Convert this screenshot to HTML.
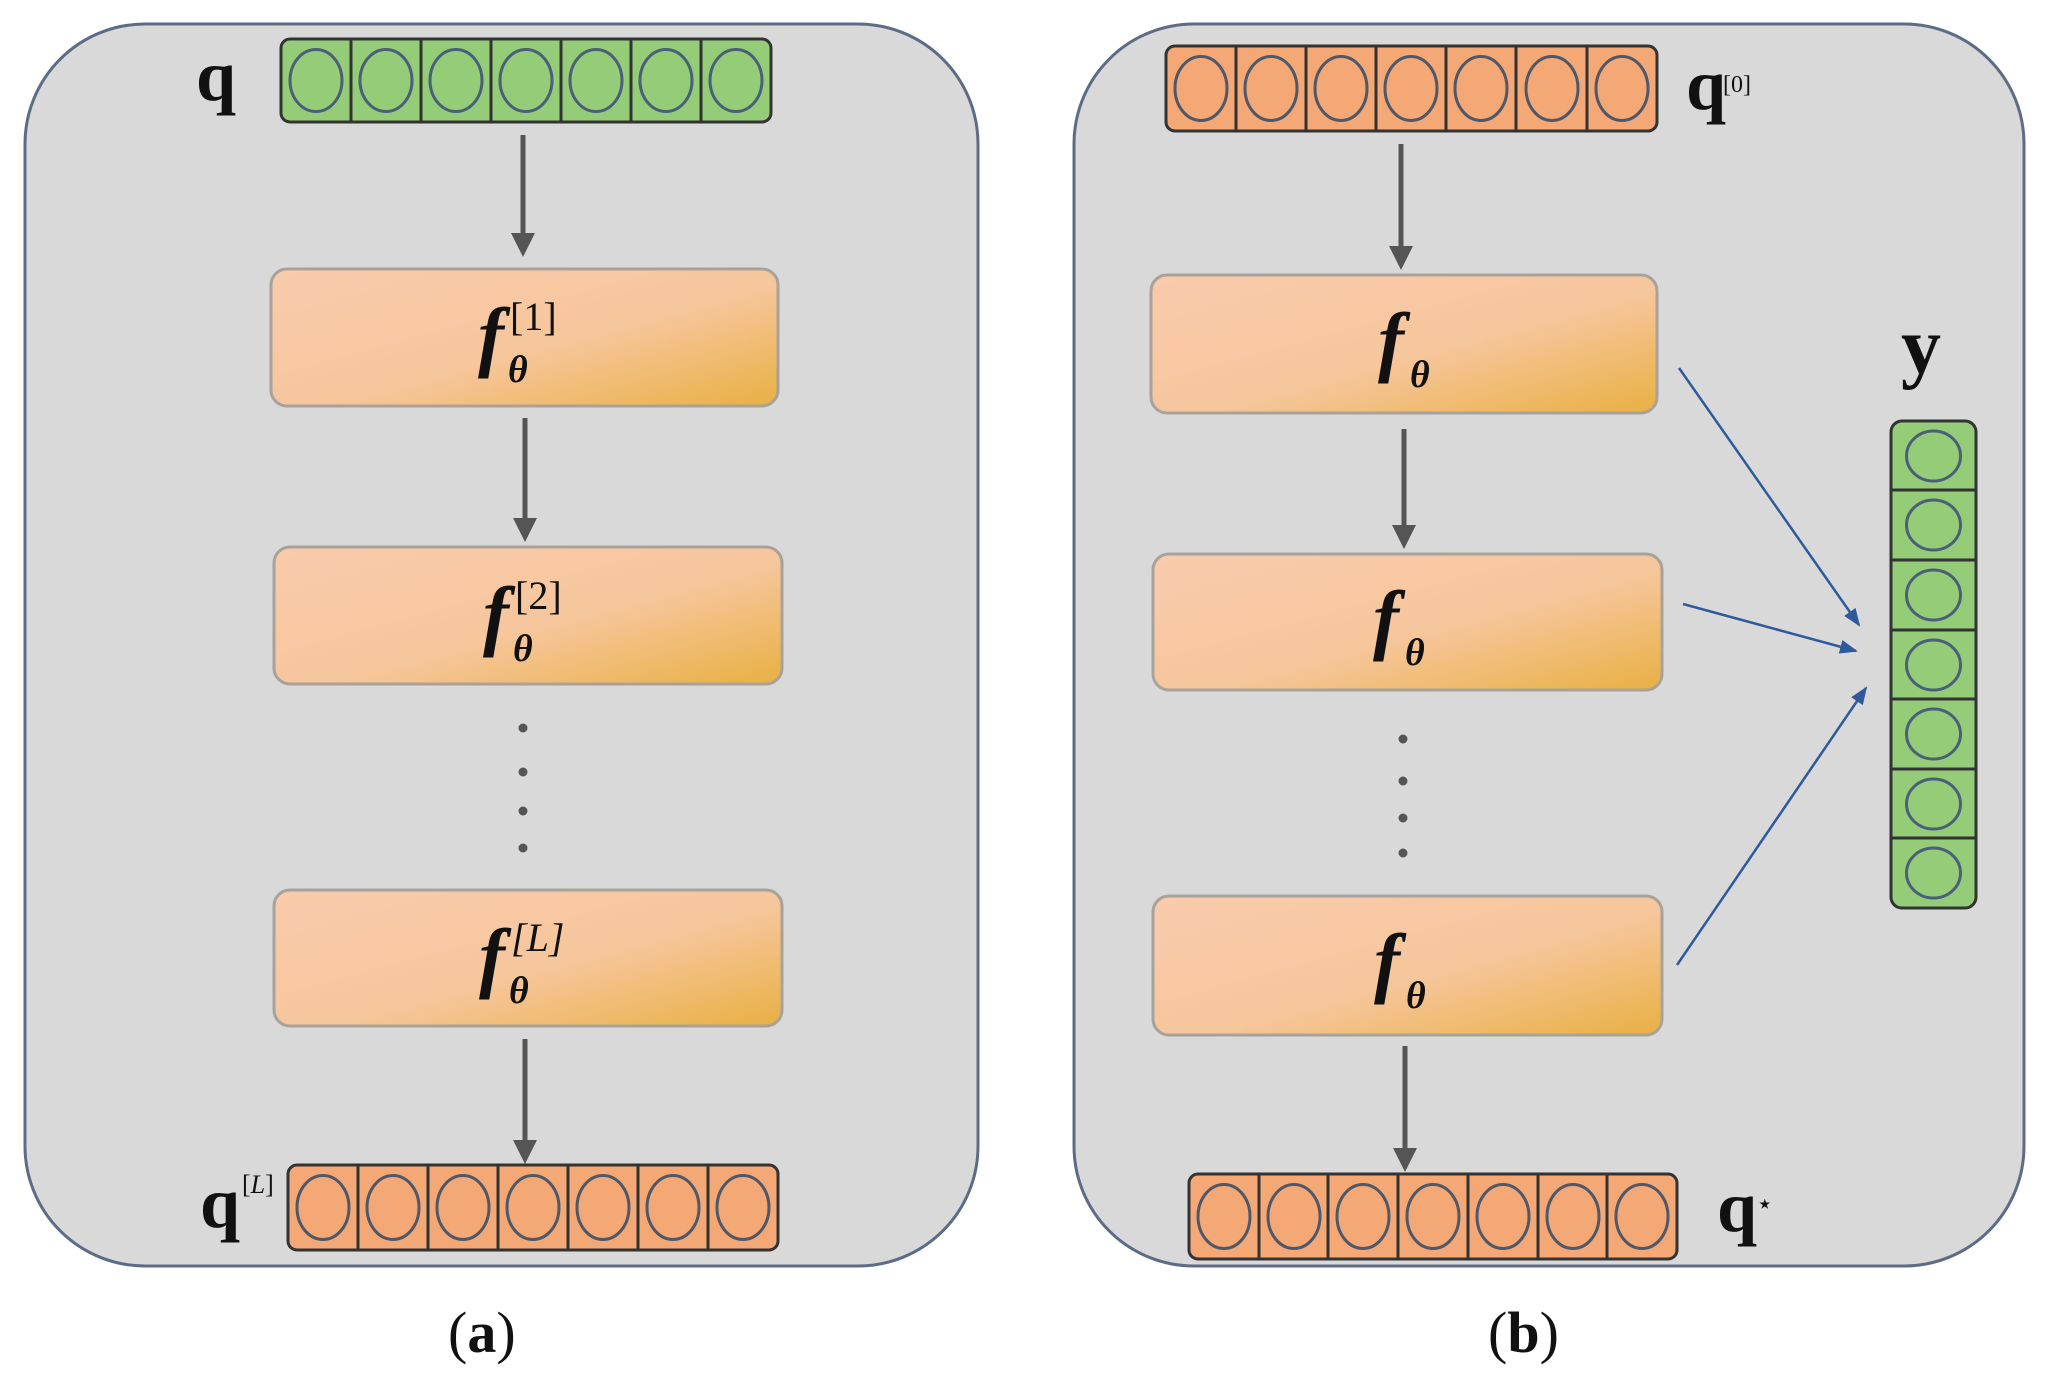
<!DOCTYPE html>
<html><head><meta charset="utf-8"><style>
html,body{margin:0;padding:0;background:#fff;}
svg{display:block;}
text{font-family:"Liberation Serif",serif;fill:#111;}
</style></head><body>
<svg width="2050" height="1387" viewBox="0 0 2050 1387" xmlns="http://www.w3.org/2000/svg">
<defs>
<linearGradient id="g" x1="0" y1="0" x2="1" y2="1">
<stop offset="0" stop-color="#f9cbac"/><stop offset="0.55" stop-color="#f6c69c"/><stop offset="1" stop-color="#e9b042"/>
</linearGradient>
<marker id="ah" markerWidth="10" markerHeight="10" refX="8" refY="5" orient="auto" markerUnits="userSpaceOnUse"><path d="M0,0 L10,5 L0,10 z" fill="#555"/></marker>
<marker id="bh" markerWidth="18" markerHeight="14" refX="16" refY="7" orient="auto" markerUnits="userSpaceOnUse"><path d="M0,0 L18,7 L0,14 z" fill="#2e5a9c"/></marker>
</defs>
<rect x="0" y="0" width="2050" height="1387" fill="#fff"/>
<!-- panels -->
<rect x="25" y="24" width="953" height="1242" rx="120" fill="#d9d9d9" stroke="#5d6c86" stroke-width="3"/>
<rect x="1074" y="24" width="950" height="1242" rx="120" fill="#d9d9d9" stroke="#5d6c86" stroke-width="3"/>

<!-- arrows panel a -->
<g stroke="#555" stroke-width="5" fill="#555">
<line x1="523" y1="135" x2="523" y2="235"/><path d="M511,233 L535,233 L523,257 z" stroke="none"/>
<line x1="525" y1="418" x2="525" y2="520"/><path d="M513,518 L537,518 L525,542 z" stroke="none"/>
<line x1="525" y1="1039" x2="525" y2="1142"/><path d="M513,1140 L537,1140 L525,1164 z" stroke="none"/>
<line x1="1401" y1="144" x2="1401" y2="248"/><path d="M1389,246 L1413,246 L1401,270 z" stroke="none"/>
<line x1="1404" y1="429" x2="1404" y2="527"/><path d="M1392,525 L1416,525 L1404,549 z" stroke="none"/>
<line x1="1405" y1="1046" x2="1405" y2="1150"/><path d="M1393,1148 L1417,1148 L1405,1172 z" stroke="none"/>
</g>
<!-- dots -->
<g fill="#555">
<circle cx="523" cy="728" r="4.5"/><circle cx="523" cy="772" r="4.5"/><circle cx="523" cy="811" r="4.5"/><circle cx="523" cy="848" r="4.5"/>
<circle cx="1403" cy="739" r="4.5"/><circle cx="1403" cy="781" r="4.5"/><circle cx="1403" cy="818" r="4.5"/><circle cx="1403" cy="853" r="4.5"/>
</g>

<!-- boxes -->
<g fill="url(#g)" stroke="#a8a29a" stroke-width="3">
<rect x="271" y="269" width="507" height="137" rx="16"/>
<rect x="274" y="547" width="508" height="137" rx="16"/>
<rect x="274" y="890" width="508" height="136" rx="16"/>
<rect x="1151" y="275" width="506" height="138" rx="16"/>
<rect x="1153" y="554" width="509" height="136" rx="16"/>
<rect x="1153" y="896" width="509" height="139" rx="16"/>
</g>

<!-- box labels -->
<g font-style="italic">
<text x="478" y="362" font-size="78" font-weight="bold">f</text><text x="508" y="382" font-size="38" font-weight="bold">θ</text><text x="510" y="330" font-size="40" font-style="normal">[1]</text>
<text x="483" y="641" font-size="78" font-weight="bold">f</text><text x="513" y="661" font-size="38" font-weight="bold">θ</text><text x="515" y="609" font-size="40" font-style="normal">[2]</text>
<text x="479" y="983" font-size="78" font-weight="bold">f</text><text x="509" y="1003" font-size="38" font-weight="bold">θ</text><text x="511" y="951" font-size="40">[<tspan font-style="italic">L</tspan>]</text>
<text x="1378" y="367" font-size="78" font-weight="bold">f</text><text x="1410" y="387" font-size="38" font-weight="bold">θ</text>
<text x="1373" y="645" font-size="78" font-weight="bold">f</text><text x="1405" y="665" font-size="38" font-weight="bold">θ</text>
<text x="1374" y="988" font-size="78" font-weight="bold">f</text><text x="1406" y="1008" font-size="38" font-weight="bold">θ</text>
</g>

<!-- vector a-q (green) -->
<g stroke="#333" stroke-width="3">
<rect x="281" y="39" width="490" height="83" rx="9" fill="#94cc78"/>
<path d="M351,39V122M421,39V122M491,39V122M561,39V122M631,39V122M701,39V122"/>
</g>
<g fill="none" stroke="#4a5f78" stroke-width="3">
<ellipse cx="316" cy="80.5" rx="26" ry="31"/><ellipse cx="386" cy="80.5" rx="26" ry="31"/><ellipse cx="456" cy="80.5" rx="26" ry="31"/><ellipse cx="526" cy="80.5" rx="26" ry="31"/><ellipse cx="596" cy="80.5" rx="26" ry="31"/><ellipse cx="666" cy="80.5" rx="26" ry="31"/><ellipse cx="736" cy="80.5" rx="26" ry="31"/>
</g>
<!-- vector a-qL -->
<g stroke="#333" stroke-width="3">
<rect x="288" y="1165" width="490" height="85" rx="9" fill="#f4a876"/>
<path d="M358,1165V1250M428,1165V1250M498,1165V1250M568,1165V1250M638,1165V1250M708,1165V1250"/>
</g>
<g fill="none" stroke="#4f5868" stroke-width="3">
<ellipse cx="323" cy="1207.5" rx="26" ry="32"/><ellipse cx="393" cy="1207.5" rx="26" ry="32"/><ellipse cx="463" cy="1207.5" rx="26" ry="32"/><ellipse cx="533" cy="1207.5" rx="26" ry="32"/><ellipse cx="603" cy="1207.5" rx="26" ry="32"/><ellipse cx="673" cy="1207.5" rx="26" ry="32"/><ellipse cx="743" cy="1207.5" rx="26" ry="32"/>
</g>
<!-- vector b-q0 -->
<g stroke="#333" stroke-width="3">
<rect x="1166" y="46" width="491" height="85" rx="9" fill="#f4a876"/>
<path d="M1236,46V131M1306,46V131M1376,46V131M1446,46V131M1516,46V131M1587,46V131"/>
</g>
<g fill="none" stroke="#4f5868" stroke-width="3">
<ellipse cx="1201" cy="88.5" rx="26" ry="32"/><ellipse cx="1271" cy="88.5" rx="26" ry="32"/><ellipse cx="1341" cy="88.5" rx="26" ry="32"/><ellipse cx="1411" cy="88.5" rx="26" ry="32"/><ellipse cx="1481" cy="88.5" rx="26" ry="32"/><ellipse cx="1552" cy="88.5" rx="26" ry="32"/><ellipse cx="1622" cy="88.5" rx="26" ry="32"/>
</g>
<!-- vector b-qstar -->
<g stroke="#333" stroke-width="3">
<rect x="1189" y="1174" width="488" height="85" rx="9" fill="#f4a876"/>
<path d="M1259,1174V1259M1328,1174V1259M1398,1174V1259M1468,1174V1259M1538,1174V1259M1607,1174V1259"/>
</g>
<g fill="none" stroke="#4f5868" stroke-width="3">
<ellipse cx="1224" cy="1216.5" rx="26" ry="32"/><ellipse cx="1294" cy="1216.5" rx="26" ry="32"/><ellipse cx="1363" cy="1216.5" rx="26" ry="32"/><ellipse cx="1433" cy="1216.5" rx="26" ry="32"/><ellipse cx="1503" cy="1216.5" rx="26" ry="32"/><ellipse cx="1573" cy="1216.5" rx="26" ry="32"/><ellipse cx="1642" cy="1216.5" rx="26" ry="32"/>
</g>
<!-- vector y -->
<g stroke="#333" stroke-width="3">
<rect x="1891" y="421" width="85" height="487" rx="11" fill="#94cc78"/>
<path d="M1891,490H1976M1891,560H1976M1891,630H1976M1891,699H1976M1891,769H1976M1891,838H1976"/>
</g>
<g fill="none" stroke="#4a5f78" stroke-width="3">
<ellipse cx="1933.5" cy="456" rx="27" ry="25"/><ellipse cx="1933.5" cy="525" rx="27" ry="25"/><ellipse cx="1933.5" cy="595" rx="27" ry="25"/><ellipse cx="1933.5" cy="665" rx="27" ry="25"/><ellipse cx="1933.5" cy="734" rx="27" ry="25"/><ellipse cx="1933.5" cy="804" rx="27" ry="25"/><ellipse cx="1933.5" cy="873" rx="27" ry="25"/>
</g>

<!-- blue arrows -->
<g stroke="#2e5a9c" stroke-width="2.5" fill="none">
<line x1="1679" y1="368" x2="1859" y2="625" marker-end="url(#bh)"/>
<line x1="1683" y1="604" x2="1856" y2="651" marker-end="url(#bh)"/>
<line x1="1677" y1="965" x2="1866" y2="688" marker-end="url(#bh)"/>
</g>

<!-- labels -->
<g font-weight="bold">
<text x="196" y="100" font-size="72">q</text>
<text x="200" y="1227" font-size="72">q</text><text x="242" y="1193" font-size="26" font-weight="normal">[<tspan font-style="italic">L</tspan>]</text>
<text x="1686" y="109" font-size="72">q</text><text x="1723" y="92" font-size="24" font-weight="normal">[0]</text>
<text x="1717" y="1231" font-size="72">q</text><text x="1756" y="1213" font-size="28" font-weight="normal">⋆</text>
<text x="1901" y="373" font-size="80">y</text>
</g>
<text x="448" y="1352" font-size="58">(<tspan font-weight="bold">a</tspan>)</text>
<text x="1488" y="1352" font-size="58">(<tspan font-weight="bold">b</tspan>)</text>
</svg>
</body></html>
